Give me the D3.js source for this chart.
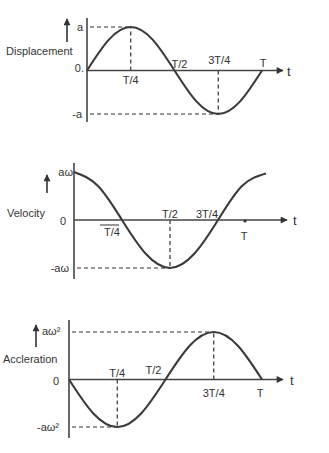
<!DOCTYPE html>
<html><head><meta charset="utf-8">
<script src="https://cdn.jsdelivr.net/npm/d3@7"></script>
<style>html,body{margin:0;padding:0;background:#fff;}svg{display:block;}</style>
</head><body>
<svg id="c" width="329" height="453"></svg>
<script>
// ---- data (phase as fraction of period T) ----
const phase = [0, 0.125, 0.25, 0.375, 0.5, 0.625, 0.75, 0.875, 1];
const displacement = [0, 0.71, 1, 0.71, 0, -0.71, -1, -0.71, 0];
const velocity = [1, 0.71, 0, -0.71, -1, -0.71, 0, 0.71, 0.97];
const acceleration = [0, -0.71, -1, -0.71, 0, 0.71, 1, 0.71, 0];
const tickLabels = ["T/4", "T/2", "3T/4", "T"];
const tickPhase = [0.25, 0.5, 0.75, 1];
const quantityNames = ["Displacement", "Velocity", "Accleration"];
const maxLabels = ["a", "a\u03c9", "a\u03c9\u00b2"];
const minLabels = ["-a", "-a\u03c9", "-a\u03c9\u00b2"];
const zeroLabels = ["0.", "0", "0"];

// ---- layout ----
const panels = [
  {values: displacement, x0: 87, x1: 262, yTop: 27, yZero: 71, yBot: 114, axTop: 18, axBot: 122, arrowEnd: 283, tX: 287,
   ticks: [{dx: 0, y: 84}, {dx: 5, y: 68}, {dx: 1, y: 64}, {dx: 1, y: 67}],
   maxL: {x: 77, y: 31, a: "start"}, zeroL: {x: 84, y: 72}, minL: {x: 82, y: 118, a: "end"},
   name: {x: 6, y: 55}, arrow: {x: 67, y1: 42, y2: 19},
   dashes: [[90, 0.25, "top"], [90, 0.75, "bot"]]},
  {values: velocity, x0: 74, x1: 266, yTop: 172, yZero: 221, yBot: 268, axTop: 163, axBot: 279, arrowEnd: 287, tX: 293,
   ticks: [{dx: -10, y: 236}, {dx: 0, y: 218}, {dx: -11, y: 218}, {dx: -22, y: 240}],
   maxL: {x: 73, y: 176, a: "end"}, zeroL: {x: 66, y: 225}, minL: {x: 69, y: 272, a: "end"},
   name: {x: 7, y: 217}, arrow: {x: 47, y1: 193, y2: 175},
   dashes: [[77, 0.5, "bot"]]},
  {values: acceleration, x0: 69, x1: 262, yTop: 332, yZero: 381, yBot: 427, axTop: 320, axBot: 438, arrowEnd: 283, tX: 290,
   ticks: [{dx: 0, y: 377}, {dx: -12, y: 374}, {dx: 0, y: 397}, {dx: -2, y: 397}],
   maxL: {x: 42, y: 335, a: "start"}, zeroL: {x: 59, y: 385}, minL: {x: 37, y: 431, a: "start"},
   name: {x: 3, y: 363}, arrow: {x: 36, y1: 347, y2: 325},
   dashes: [[72, 0.75, "top"], [72, 0.25, "bot"]]}
];

const svg = d3.select("#c");
const ink = "#333";
const font = "'Liberation Sans', Arial, sans-serif";

svg.append("defs").append("marker")
  .attr("id", "ah").attr("viewBox", "0 0 10 10").attr("refX", 9).attr("refY", 5)
  .attr("markerWidth", 9).attr("markerHeight", 7).attr("markerUnits", "userSpaceOnUse")
  .attr("orient", "auto")
  .append("path").attr("d", "M0,0 L10,5 L0,10 Z").attr("fill", ink);

panels.forEach((p, i) => {
  const g = svg.append("g");
  const x = d3.scaleLinear().domain([0, 1]).range([p.x0, p.x1]);
  const y = d3.scaleLinear().domain([-1, 1]).range([p.yBot, p.yTop]);

  // dashed guides
  p.dashes.forEach(([xs, ph, which]) => {
    const yy = which === "top" ? y(1) : y(-1);
    g.append("line").attr("x1", xs).attr("x2", x(ph)).attr("y1", yy).attr("y2", yy)
      .attr("stroke", ink).attr("stroke-width", 1.2).attr("stroke-dasharray", "4,3");
    g.append("line").attr("x1", x(ph)).attr("x2", x(ph)).attr("y1", y(0)).attr("y2", yy)
      .attr("stroke", ink).attr("stroke-width", 1.2).attr("stroke-dasharray", "4,3");
  });

  // y axis
  g.append("line").attr("x1", p.x0).attr("x2", p.x0).attr("y1", p.axTop).attr("y2", p.axBot)
    .attr("stroke", "#444").attr("stroke-width", 1.6);
  // x axis with arrow
  g.append("line").attr("x1", p.x0).attr("x2", p.arrowEnd).attr("y1", y(0)).attr("y2", y(0))
    .attr("stroke", "#444").attr("stroke-width", 1.6).attr("marker-end", "url(#ah)");
  g.append("text").attr("x", p.tX).attr("y", y(0) + 5).text("t")
    .attr("font-family", font).attr("font-size", 13).attr("fill", ink);

  // curve
  const line = d3.line().x((d, k) => x(phase[k])).y(d => y(d)).curve(d3.curveNatural);
  g.append("path").attr("d", line(p.values)).attr("fill", "none")
    .attr("stroke", "#3a3a3a").attr("stroke-width", 2.1);

  // tick labels
  tickLabels.forEach((t, k) => {
    g.append("text").attr("x", x(tickPhase[k]) + p.ticks[k].dx).attr("y", p.ticks[k].y)
      .attr("text-anchor", "middle").text(t)
      .attr("font-family", font).attr("font-size", 11).attr("fill", ink);
  });

  // value labels
  g.append("text").attr("x", p.maxL.x).attr("y", p.maxL.y).attr("text-anchor", p.maxL.a).text(maxLabels[i])
    .attr("font-family", font).attr("font-size", 11).attr("fill", ink);
  g.append("text").attr("x", p.zeroL.x).attr("y", p.zeroL.y).attr("text-anchor", "end").text(zeroLabels[i])
    .attr("font-family", font).attr("font-size", 11).attr("fill", ink);
  g.append("text").attr("x", p.minL.x).attr("y", p.minL.y).attr("text-anchor", p.minL.a).text(minLabels[i])
    .attr("font-family", font).attr("font-size", 11).attr("fill", ink);
  g.append("text").attr("x", p.name.x).attr("y", p.name.y).text(quantityNames[i])
    .attr("font-family", font).attr("font-size", 11).attr("fill", ink);

  // small upward arrow near quantity name
  g.append("line").attr("x1", p.arrow.x).attr("x2", p.arrow.x).attr("y1", p.arrow.y1).attr("y2", p.arrow.y2)
    .attr("stroke", ink).attr("stroke-width", 1.6).attr("marker-end", "url(#ah)");
});

// small details on velocity panel: overline above T/4 and tick dot at T
svg.append("line").attr("x1", 100).attr("x2", 119).attr("y1", 225).attr("y2", 225)
  .attr("stroke", ink).attr("stroke-width", 1);
svg.append("circle").attr("cx", 245).attr("cy", 221).attr("r", 1.6).attr("fill", ink);
</script>
</body></html>
